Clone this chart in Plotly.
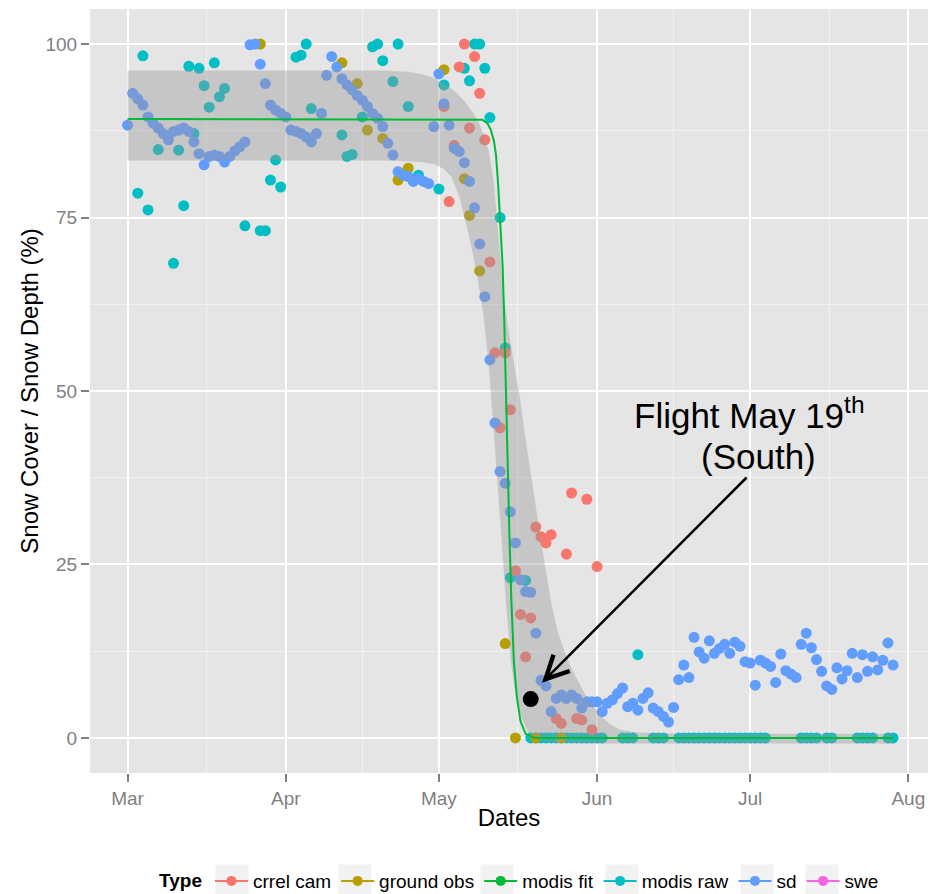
import pandas as pd
import plotly.graph_objects as go

SEASON_START = pd.Timestamp("2014-03-01")

# ---- data: day offsets are counted from 1 March ----
sd_days = list(range(0, 151))
sd_vals = [
    88.3, 92.9, 92.1, 91.2, 89.5, 88.6, 87.9, 87.1, 86.2, 87.4,
    87.6, 87.9, 87.4, 85.9, 84.2, 82.6, 83.8, 84.0, 83.8, 83.0,
    83.8, 84.6, 85.2, 85.9, 99.9, 100.0, 97.1, 94.3, 91.2, 90.5,
    90.0, 89.5, 87.6, 87.4, 87.1, 86.6, 85.9, 87.1, 90.0, 95.5,
    98.2, 96.7, 95.0, 94.1, 93.4, 92.6, 91.9, 91.0, 90.0, 89.3,
    88.1, 85.7, 84.0, 81.6, 81.1, 80.9, 80.2, 80.6, 80.2, 79.9,
    88.1, 95.7, 91.4, 88.3, 85.0, 84.5, 82.9, 80.2, 76.4, 71.2,
    63.6, 54.5, 45.4, 38.4, 36.7, 32.6, 28.1, 22.8, 21.1, 21.0,
    15.1, 8.3, 7.5, 3.8, 5.7, 6.2, 5.7, 6.2, 5.7, 4.3,
    5.2, 5.2, 5.2, 3.8, 5.0, 5.5, 6.4, 7.2, 4.5, 5.0,
    4.0, 5.7, 6.5, 4.3, 3.8, 3.1, 2.3, 4.4, 8.4, 10.5,
    8.7, 14.5, 12.4, 11.5, 14.0, 12.2, 12.9, 13.5, 12.2, 13.8,
    13.2, 11.0, 10.8, 7.6, 11.2, 10.8, 10.3, 8.0, 12.1, 9.7,
    9.2, 8.7, 13.5, 15.1, 13.0, 11.3, 9.6, 7.5, 7.0, 10.1,
    8.5, 9.7, 12.2, 8.7, 12.0, 9.6, 11.7, 9.8, 11.2, 13.7,
    10.5,
]

crrel_days = [62, 63, 64, 65, 66, 67, 68, 69, 70, 71, 72, 73, 74, 75, 76, 77,
              78, 79, 80, 81, 82, 83, 84, 85, 86, 87, 88, 89, 90, 91, 92]
crrel_vals = [91.0, 77.3, 85.4, 96.7, 100.0, 87.9, 98.2, 92.9, 86.2, 68.6,
              55.5, 44.7, 55.5, 47.3, 24.1, 17.8, 11.7, 17.3, 30.4, 29.0,
              28.1, 29.3, 2.8, 2.1, 26.5, 35.3, 2.8, 2.6, 34.4, 1.2, 24.7]

ground_days = [26, 42, 45, 47, 50, 53, 55, 62, 66, 67, 69, 74, 76, 80, 85]
ground_vals = [100.0, 97.3, 94.3, 87.6, 86.4, 80.4, 82.1, 96.3, 80.6, 75.3,
               67.3, 13.6, 0.0, 0.0, 0.0]

modis_raw_days = [
    2, 3, 4, 6, 9, 10, 11, 12, 13, 14, 15, 16, 17, 18, 19, 23, 26, 27, 28,
    29, 30, 33, 34, 35, 36, 42, 43, 44, 46, 48, 49, 50, 52, 53, 55, 57, 61,
    62, 66, 67, 68, 69, 70, 71, 73, 74, 75, 78,
    79, 80, 81, 82, 83, 84, 85, 86, 87, 88, 89, 90, 91, 92, 93,
    97, 98, 99, 100, 103, 104, 105,
    108, 109, 110, 111, 112, 113, 114, 115, 116, 117, 118, 119, 120, 121,
    122, 123, 124, 125,
    132, 133, 134, 135, 137, 138, 143, 144, 145, 146, 149, 150,
]
modis_raw_vals = [
    78.5, 98.3, 76.1, 84.8, 68.4, 84.7, 76.7, 96.8, 87.1, 96.5, 94.0, 90.9,
    97.3, 92.4, 93.6, 73.8, 73.1, 73.1, 80.4, 83.3, 79.4, 98.1, 98.4, 100.0,
    90.7, 86.9, 83.8, 84.1, 89.5, 99.6, 100.0, 97.6, 94.6, 100.0, 91.0, 81.1,
    79.1, 94.1, 96.5, 94.7, 100.0, 100.0, 96.5, 89.4, 75.0, 56.2, 23.1, 22.7,
    0, 0, 0, 0, 0, 0, 0, 0, 0, 0, 0, 0, 0, 0, 0,
    0, 0, 0, 12.0, 0, 0, 0,
    0, 0, 0, 0, 0, 0, 0, 0, 0, 0, 0, 0, 0, 0, 0, 0, 0, 0,
    0, 0, 0, 0, 0, 0, 0, 0, 0, 0, 0, 0,
]

modis_fit_days = [0, 68.0, 69.5, 70.5, 71.2, 71.8, 72.2, 72.6, 73.0, 73.5,
                  73.8, 74.1, 74.5, 74.8, 75.2, 75.7, 76.3, 77.0, 78.0, 79.5,
                  80.5, 150]
modis_fit_vals = [89.2, 89.2, 89.1, 88.6, 87.6, 86.0, 84.0, 79.9, 75.1, 67.9,
                  60.5, 50.0, 40.0, 30.0, 20.0, 11.0, 5.8, 2.4, 0.6, 0.05,
                  0.0, 0.0]

# confidence band around the fit
band_hi_days = [0, 50, 55, 58, 60, 62, 64, 66, 67.5, 68.6, 69.8, 70.8, 71.7,
                72.5, 73.2, 73.8, 74.8, 75.8, 77.1, 77.9, 79.0, 80.0, 81.0,
                82.0, 82.9, 84.2, 85.6, 87.0, 88.2, 90.0, 91.5, 93.0, 94.5,
                96.5, 100, 110, 150]
band_hi_vals = [96.2, 96.2, 96.0, 95.6, 95.1, 94.4, 93.3, 91.8, 90.3, 89.0,
                87.0, 84.5, 80.5, 73.5, 67.5, 63.1, 58.0, 53.5, 48.0, 43.5,
                38.0, 33.0, 28.5, 24.0, 20.0, 15.5, 12.5, 10.0, 8.3, 5.8,
                4.3, 3.0, 2.0, 1.2, 0.8, 0.6, 0.6]
band_lo_days = [0, 52, 57.5, 60, 62, 63.5, 65, 66.7, 68.3, 69.8, 70.8, 71.5,
                72.2, 73.2, 74.1, 75.1, 76.1, 77.4, 78.5, 80, 83, 90, 150]
band_lo_vals = [83.2, 83.2, 83.0, 82.7, 82.0, 80.8, 78.0, 73.0, 67.5, 60.5,
                53.5, 46.0, 39.0, 29.5, 20.0, 11.0, 5.8, 2.5, 0.8, -0.2,
                -0.7, -0.8, -0.8]

flight_day = [79]
flight_val = [5.6]

type_names = ["crrel cam", "ground obs", "modis fit", "modis raw", "sd", "swe"]
type_colors = ["#F8766D", "#B79F00", "#00BA38", "#00BFC4", "#619CFF", "#F564E3"]
colors = dict(zip(type_names, type_colors))

month_labels = ["Mar", "Apr", "May", "Jun", "Jul", "Aug"]


def to_dates(days):
    return [SEASON_START + pd.Timedelta(days=float(d)) for d in days]


FONT = "Liberation Sans, Arial, Helvetica, sans-serif"
PT = 11  # marker diameter in px

# figure / panel geometry in px
W, H = 928, 894
M_L, M_R, M_T, M_B = 90, 0, 9, 121
PANEL_W, PANEL_H = W - M_L - M_R, H - M_T - M_B

fig = go.Figure()

# observations (drawn first, the band is laid over them)
for name, days, vals in [
    ("modis raw", modis_raw_days, modis_raw_vals),
    ("crrel cam", crrel_days, crrel_vals),
    ("ground obs", ground_days, ground_vals),
    ("sd", sd_days, sd_vals),
]:
    fig.add_trace(go.Scatter(
        x=to_dates(days), y=vals, mode="markers", name=name,
        marker=dict(color=colors[name], size=PT, line=dict(width=0)),
        showlegend=False, hoverinfo="skip",
    ))

# grey confidence band
band_x = to_dates(band_hi_days) + to_dates(band_lo_days[::-1])
band_y = band_hi_vals + band_lo_vals[::-1]
fig.add_trace(go.Scatter(
    x=band_x, y=band_y, mode="lines", fill="toself",
    fillcolor="rgba(153,153,153,0.4)", line=dict(width=0),
    showlegend=False, hoverinfo="skip",
))

# fitted MODIS curve
fig.add_trace(go.Scatter(
    x=to_dates(modis_fit_days), y=modis_fit_vals, mode="lines",
    line=dict(color=colors["modis fit"], width=2),
    showlegend=False, hoverinfo="skip",
))

# flight date marker
fig.add_trace(go.Scatter(
    x=to_dates(flight_day), y=flight_val, mode="markers",
    marker=dict(color="black", size=16, line=dict(width=0)),
    showlegend=False, hoverinfo="skip",
))

# legend keys (point + line for every type)
for name in type_names:
    fig.add_trace(go.Scatter(
        x=[None], y=[None], mode="lines+markers", name=name,
        line=dict(color=colors[name], width=2),
        marker=dict(color=colors[name], size=10),
    ))

month_starts = [SEASON_START + pd.DateOffset(months=i) for i in range(6)]
month_mids = [a + (b - a) / 2 for a, b in zip(month_starts[:-1], month_starts[1:])]

x_range = [SEASON_START + pd.Timedelta(days=-7.365),
           SEASON_START + pd.Timedelta(days=156.85)]

# light key backgrounds behind the legend symbols
key_centres_px = [232, 355, 497, 622, 757, 822]
key_y_px, key_half = 881, 16.5
for cx in key_centres_px:
    fig.add_shape(
        type="rect", xref="paper", yref="paper", layer="below",
        x0=(cx - key_half - M_L) / PANEL_W, x1=(cx + key_half - M_L) / PANEL_W,
        y0=(H - M_B - (key_y_px + key_half)) / PANEL_H,
        y1=(H - M_B - (key_y_px - key_half)) / PANEL_H,
        fillcolor="#F2F2F2", line=dict(width=0),
    )

fig.update_layout(
    width=W, height=H,
    margin=dict(l=M_L, r=M_R, t=M_T, b=M_B, autoexpand=False),
    paper_bgcolor="white", plot_bgcolor="#E5E5E5",
    font=dict(family=FONT, color="black"),
    xaxis=dict(
        type="date", range=x_range, automargin=False,
        tickmode="array", tickvals=month_starts, ticktext=month_labels,
        ticks="outside", ticklen=8, tickwidth=2, tickcolor="#7F7F7F",
        tickfont=dict(size=19, color="#7F7F7F"),
        showgrid=True, gridcolor="white", gridwidth=2,
        minor=dict(tickmode="array", tickvals=month_mids, showgrid=True,
                   gridcolor="#F2F2F2", gridwidth=1, ticks=""),
        zeroline=False, showline=False,
        title=dict(text="Dates", font=dict(size=24, color="black"), standoff=1),
    ),
    yaxis=dict(
        range=[-5.05, 105.05], automargin=False,
        tickmode="array", tickvals=[0, 25, 50, 75, 100],
        ticks="outside", ticklen=8, tickwidth=2, tickcolor="#7F7F7F",
        tickfont=dict(size=19, color="#7F7F7F"),
        showgrid=True, gridcolor="white", gridwidth=2,
        minor=dict(tickmode="array", tickvals=[12.5, 37.5, 62.5, 87.5],
                   showgrid=True, gridcolor="#F2F2F2", gridwidth=1, ticks=""),
        zeroline=False, showline=False,
        title=dict(text="Snow Cover / Snow Depth (%)",
                   font=dict(size=24, color="black"), standoff=0),
    ),
    legend=dict(
        orientation="h", x=0.08, xanchor="left", y=-0.1414, yanchor="middle",
        title=dict(text="<b>Type</b>", font=dict(size=19), side="left"),
        font=dict(size=19), bgcolor="rgba(0,0,0,0)", itemwidth=33,
    ),
    showlegend=True,
)

# flight annotation
fig.add_annotation(
    x=SEASON_START + pd.Timedelta(days=121.94), y=46.8, xref="x", yref="y",
    text="Flight May 19<sup>th</sup>", showarrow=False,
    font=dict(size=35, color="black", family=FONT), xanchor="center", yanchor="middle",
)
fig.add_annotation(
    x=SEASON_START + pd.Timedelta(days=123.7), y=40.5, xref="x", yref="y",
    text="(South)", showarrow=False,
    font=dict(size=35, color="black", family=FONT), xanchor="center", yanchor="middle",
)
fig.add_annotation(
    x=SEASON_START + pd.Timedelta(days=81.2), y=7.97, xref="x", yref="y",
    ax=SEASON_START + pd.Timedelta(days=121.6), ay=37.75, axref="x", ayref="y",
    text="", showarrow=True, arrowhead=5, arrowsize=1.8, arrowwidth=2.5,
    arrowcolor="black", standoff=0, startstandoff=0,
)

fig.write_html("out.html")
